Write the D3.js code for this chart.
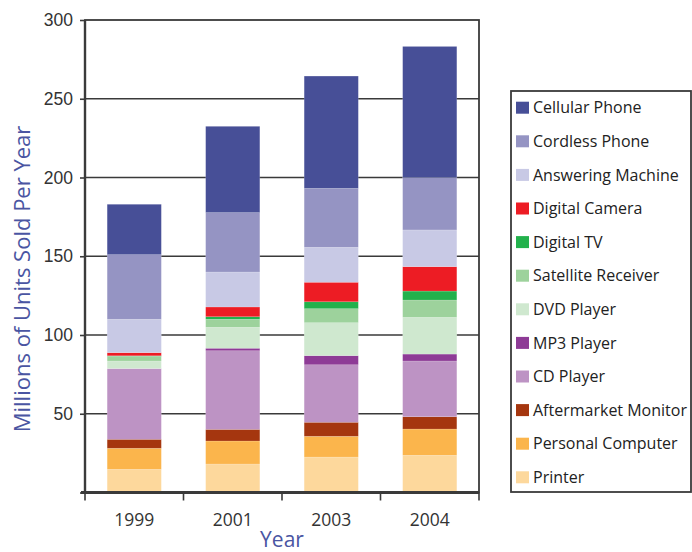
<!DOCTYPE html>
<html>
<head>
<meta charset="utf-8">
<script src="https://cdn.jsdelivr.net/npm/d3@7/dist/d3.min.js"></script>
<style>
  html, body { margin: 0; padding: 0; background: #fff; }
  svg { display: block; font-family: "Open Sans", "Noto Sans", sans-serif; }
</style>
</head>
<body>
<svg id="chart" width="692" height="552"></svg>
<script>
// Unit sales by year, in millions
const years = ["1999", "2001", "2003", "2004"];

// Stacked bottom-to-top
const series = ["Printer", "Personal Computer", "Aftermarket Monitor", "CD Player",
  "MP3 Player", "DVD Player", "Satellite Receiver", "Digital TV",
  "Digital Camera", "Answering Machine", "Cordless Phone", "Cellular Phone"];

const printer            = [14.7, 18.1, 22.5, 23.6];
const personalComputer   = [13.4, 14.6, 13.2, 16.7];
const aftermarketMonitor = [5.7, 7.4, 8.9, 7.8];
const cdPlayer           = [44.9, 49.9, 36.5, 35.4];
const mp3Player          = [0.0, 1.6, 5.8, 4.4];
const dvdPlayer          = [4.8, 13.3, 20.9, 23.3];
const satelliteReceiver  = [3.0, 5.1, 8.9, 11.0];
const digitalTV          = [0.3, 1.6, 4.4, 5.7];
const digitalCamera      = [2.0, 6.2, 12.4, 15.5];
const answeringMachine   = [21.2, 22.2, 22.2, 23.3];
const cordlessPhone      = [41.0, 37.7, 37.4, 33.2];
const cellularPhone      = [32.0, 54.8, 71.3, 83.3];

const yTicks = [0, 50, 100, 150, 200, 250, 300];

const colors = ["#fdd89c", "#fbb54c", "#a5360f", "#bd93c4", "#8e3b96", "#cfe8cf",
  "#9dd29c", "#22b14c", "#ed1c24", "#c8c9e5", "#9594c3", "#474f97"];

const valuesBySeries = [printer, personalComputer, aftermarketMonitor, cdPlayer,
  mp3Player, dvdPlayer, satelliteReceiver, digitalTV, digitalCamera,
  answeringMachine, cordlessPhone, cellularPhone];

const table = years.map((yr, i) => {
  const row = { year: yr };
  series.forEach((s, j) => { row[s] = valuesBySeries[j][i]; });
  return row;
});

const svg = d3.select("#chart");
const plotL = 85, plotR = 479, plotT = 20, plotB = 492.5;

const x = d3.scaleBand().domain(years).range([plotL, plotR])
  .paddingInner(0.45).paddingOuter(0.225);
const y = d3.scaleLinear().domain([0, 300]).range([plotB, plotT]);
const color = d3.scaleOrdinal().domain(series).range(colors);

const ink = "#3a3a3a";

// Horizontal gridlines behind bars
svg.append("g").selectAll("line")
  .data(yTicks.filter(v => v > 0 && v < 300))
  .join("line")
  .attr("x1", plotL).attr("x2", plotR)
  .attr("y1", d => y(d)).attr("y2", d => y(d))
  .attr("stroke", ink).attr("stroke-width", 1.6);

// Stacked bars
const stack = d3.stack().keys(series)(table);
svg.append("g").selectAll("g")
  .data(stack)
  .join("g")
  .attr("fill", d => color(d.key))
  .selectAll("rect")
  .data(d => d)
  .join("rect")
  .attr("x", d => x(d.data.year))
  .attr("width", x.bandwidth())
  .attr("y", d => y(d[1]))
  .attr("height", d => Math.max(0, y(d[0]) - y(d[1])))
  .attr("stroke", "#ffffff").attr("stroke-opacity", 0.25).attr("stroke-width", 0.6);

// Plot frame
svg.append("rect")
  .attr("x", plotL).attr("y", plotT)
  .attr("width", plotR - plotL).attr("height", plotB - plotT)
  .attr("fill", "none").attr("stroke", ink).attr("stroke-width", 1.8);
svg.append("line")
  .attr("x1", plotL).attr("x2", plotL)
  .attr("y1", plotT).attr("y2", plotB)
  .attr("stroke", ink).attr("stroke-width", 2.4);
svg.append("line")
  .attr("x1", plotL - 4).attr("x2", plotR)
  .attr("y1", plotB).attr("y2", plotB)
  .attr("stroke", ink).attr("stroke-width", 3);

// Y axis
const yAxis = d3.axisLeft(y).tickValues(yTicks).tickSize(5).tickSizeOuter(0)
  .tickFormat(d => d === 0 ? "" : d);
const gy = svg.append("g").attr("transform", `translate(${plotL},0)`).call(yAxis);
gy.select(".domain").remove();
gy.selectAll(".tick line").attr("stroke", ink).attr("stroke-width", 1.6);
gy.selectAll(".tick text").attr("fill", "#333").attr("font-size", 17.5)
  .attr("x", -12);

// X axis: tick marks on band boundaries, labels under the bars
const boundaries = d3.range(years.length + 1).map(i => plotL + i * x.step());
svg.append("g").selectAll("line")
  .data(boundaries)
  .join("line")
  .attr("x1", d => d).attr("x2", d => d)
  .attr("y1", plotB).attr("y2", plotB + 8)
  .attr("stroke", ink).attr("stroke-width", 1.6);
svg.append("g").selectAll("text")
  .data(years)
  .join("text")
  .attr("x", d => x(d) + x.bandwidth() / 2)
  .attr("y", 526)
  .attr("text-anchor", "middle")
  .attr("fill", "#333").attr("font-size", 17.5)
  .text(d => d);

// Axis titles
const titleBlue = "#4a55a2";
svg.append("text")
  .attr("transform", `translate(30,${(118 + 440) / 2}) rotate(-90)`)
  .attr("text-anchor", "middle")
  .attr("fill", titleBlue).attr("font-size", 22)
  .text("Millions of Units Sold Per Year");
svg.append("text")
  .attr("x", x.step() * 2 + plotL).attr("y", 547)
  .attr("text-anchor", "middle")
  .attr("fill", titleBlue).attr("font-size", 21)
  .text("Year");

// Legend (top-down: reverse of stacking order)
const legendItems = series.slice().reverse();
svg.append("rect")
  .attr("x", 511).attr("y", 91).attr("width", 180).attr("height", 401)
  .attr("fill", "#fff").attr("stroke", ink).attr("stroke-width", 1.8);
const lg = svg.append("g").selectAll("g")
  .data(legendItems)
  .join("g")
  .attr("transform", (d, i) => `translate(516,${107.7 + i * 33.6})`);
lg.append("rect")
  .attr("x", 0).attr("y", -6).attr("width", 13).attr("height", 12)
  .attr("fill", d => color(d));
lg.append("text")
  .attr("x", 17).attr("y", 0).attr("dy", "0.35em")
  .attr("fill", "#222").attr("font-size", 16)
  .text(d => d);
</script>
</body>
</html>
